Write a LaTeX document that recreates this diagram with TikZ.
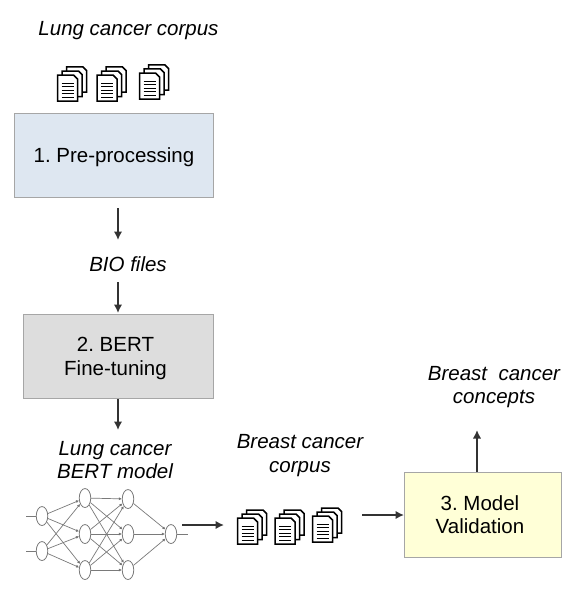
\documentclass[tikz,border=0pt]{standalone}
\usepackage{fontspec}
\setmainfont{Liberation Sans}
\usetikzlibrary{arrows.meta,shapes.geometric}
\definecolor{boxblue}{HTML}{DEE7F1}
\definecolor{boxgray}{HTML}{DDDDDD}
\definecolor{boxyellow}{HTML}{FFFFD7}
\definecolor{boxedge}{HTML}{A6A6A6}
\definecolor{arrowcol}{HTML}{333333}
\definecolor{netcol}{HTML}{7A7A7A}
\frenchspacing
\tikzset{
  x=1pt,y=-1pt,
  stepbox/.style={draw=boxedge,line width=1pt,minimum width=#1,align=center,font=\fontsize{20.5}{23.5}\selectfont,inner sep=0pt},
  lab/.style={align=center,font=\fontsize{20.5}{23.5}\selectfont\itshape,inner sep=0pt},
  flow/.style={draw=arrowcol,line width=2.4pt,-{Latex[length=8.5pt,width=8.5pt]}},
  neuron/.style={ellipse,draw=netcol,fill=white,line width=.8pt,minimum width=11.5pt,minimum height=19pt,inner sep=0pt},
  syn/.style={draw=netcol,line width=.7pt,-{Latex[length=3pt,width=3pt,fill=black]}},
  lead/.style={draw=netcol,line width=.8pt},
  sheet/.style={draw=black,fill=white,line width=1.5pt,line join=miter},
  pics/sheetdoc/.style={code={
    \path[sheet] (0,0) -- (16,0) -- (20,4) -- (20,26) -- (0,26) -- cycle;
    \foreach \yy in {8,11.5,15,18.5,22}{\draw[line width=1pt,black] (4,\yy) -- (16,\yy);}
  }},
  pics/stack/.style={code={
    \path[sheet] (9,-8) -- (25.5,-8) -- (29,-4.5) -- (29,17) -- (9,17) -- cycle;
    \path[sheet] (4.5,-4) -- (21,-4) -- (24.5,-.5) -- (24.5,21.5) -- (4.5,21.5) -- cycle;
    \pic at (0,0) {sheetdoc};
  }}
}
\begin{document}
\begin{tikzpicture}
\useasboundingbox (0,0) rectangle (587,594);
\fill[white] (0,0) rectangle (587,594);

\node[lab] (lungcorpus) at (128.5,31) {Lung cancer corpus};
\pic at (57.5,75) {stack};
\pic at (97,75) {stack};
\pic at (139.5,73) {stack};

\node[stepbox=199pt,minimum height=84pt,fill=boxblue] (pre) at (114,155) {\rule{0pt}{19pt}1. Pre-processing};
\node[lab] (bio) at (128,264) {BIO files};
\node[stepbox=190pt,minimum height=84pt,fill=boxgray] (bert) at (118.5,356) {\rule{0pt}{19pt}2. BERT\hspace*{6pt}\\Fine-tuning\hspace*{6pt}};
\node[lab] (lungmodel) at (115,460) {Lung cancer\\BERT model};
\node[lab] (breastcorpus) at (300,455.5) {Breast cancer\\corpus};
\node[stepbox=157pt,minimum height=85pt,fill=boxyellow] (valid) at (483,514.5) {3. Model\hspace*{6pt}\\Validation\hspace*{6pt}};
\node[lab] (concepts) at (494,387) {Breast\ \ cancer\\concepts};

\coordinate (a1s) at (118,208); \coordinate (a1e) at (118,240);
\coordinate (a2s) at (118,282); \coordinate (a2e) at (118,313);
\coordinate (a3s) at (118,399); \coordinate (a3e) at (118,430);
\coordinate (a4s) at (182,525); \coordinate (a4e) at (224,525);
\coordinate (a5s) at (362,515); \coordinate (valw) at (404,515);
\coordinate (a6s) at (477,472); \coordinate (a6e) at (477,430);
\draw[flow] (a1s) -- (a1e);
\draw[flow] (a2s) -- (a2e);
\draw[flow] (a3s) -- (a3e);
\draw[flow] (a4s) -- (a4e);
\draw[flow] (a5s) -- (valw);
\draw[flow] (a6s) -- (a6e);

\node[neuron] (i1) at (42,516) {};
\node[neuron] (i2) at (42,551) {};
\node[neuron] (h1) at (85,498) {};
\node[neuron] (h2) at (85,534) {};
\node[neuron] (h3) at (85,570) {};
\node[neuron] (k1) at (128,499) {};
\node[neuron] (k2) at (128,534) {};
\node[neuron] (k3) at (128,570) {};
\node[neuron] (o) at (171,534) {};
\foreach \a in {i1,i2}\foreach \b in {h1,h2,h3}{\draw[syn] (\a) -- (\b);}
\foreach \a in {h1,h2,h3}\foreach \b in {k1,k2,k3}{\draw[syn] (\a) -- (\b);}
\foreach \a in {k1,k2,k3}{\draw[syn] (\a) -- (o);}
\coordinate (l1) at (26,516); \coordinate (l2) at (26,551); \coordinate (l3) at (188,534);
\draw[lead] (l1) -- (i1);
\draw[lead] (l2) -- (i2);
\draw[lead] (o) -- (l3);

\pic at (237.5,518) {stack};
\pic at (275,518) {stack};
\pic at (312.5,516) {stack};
\end{tikzpicture}
\end{document}
